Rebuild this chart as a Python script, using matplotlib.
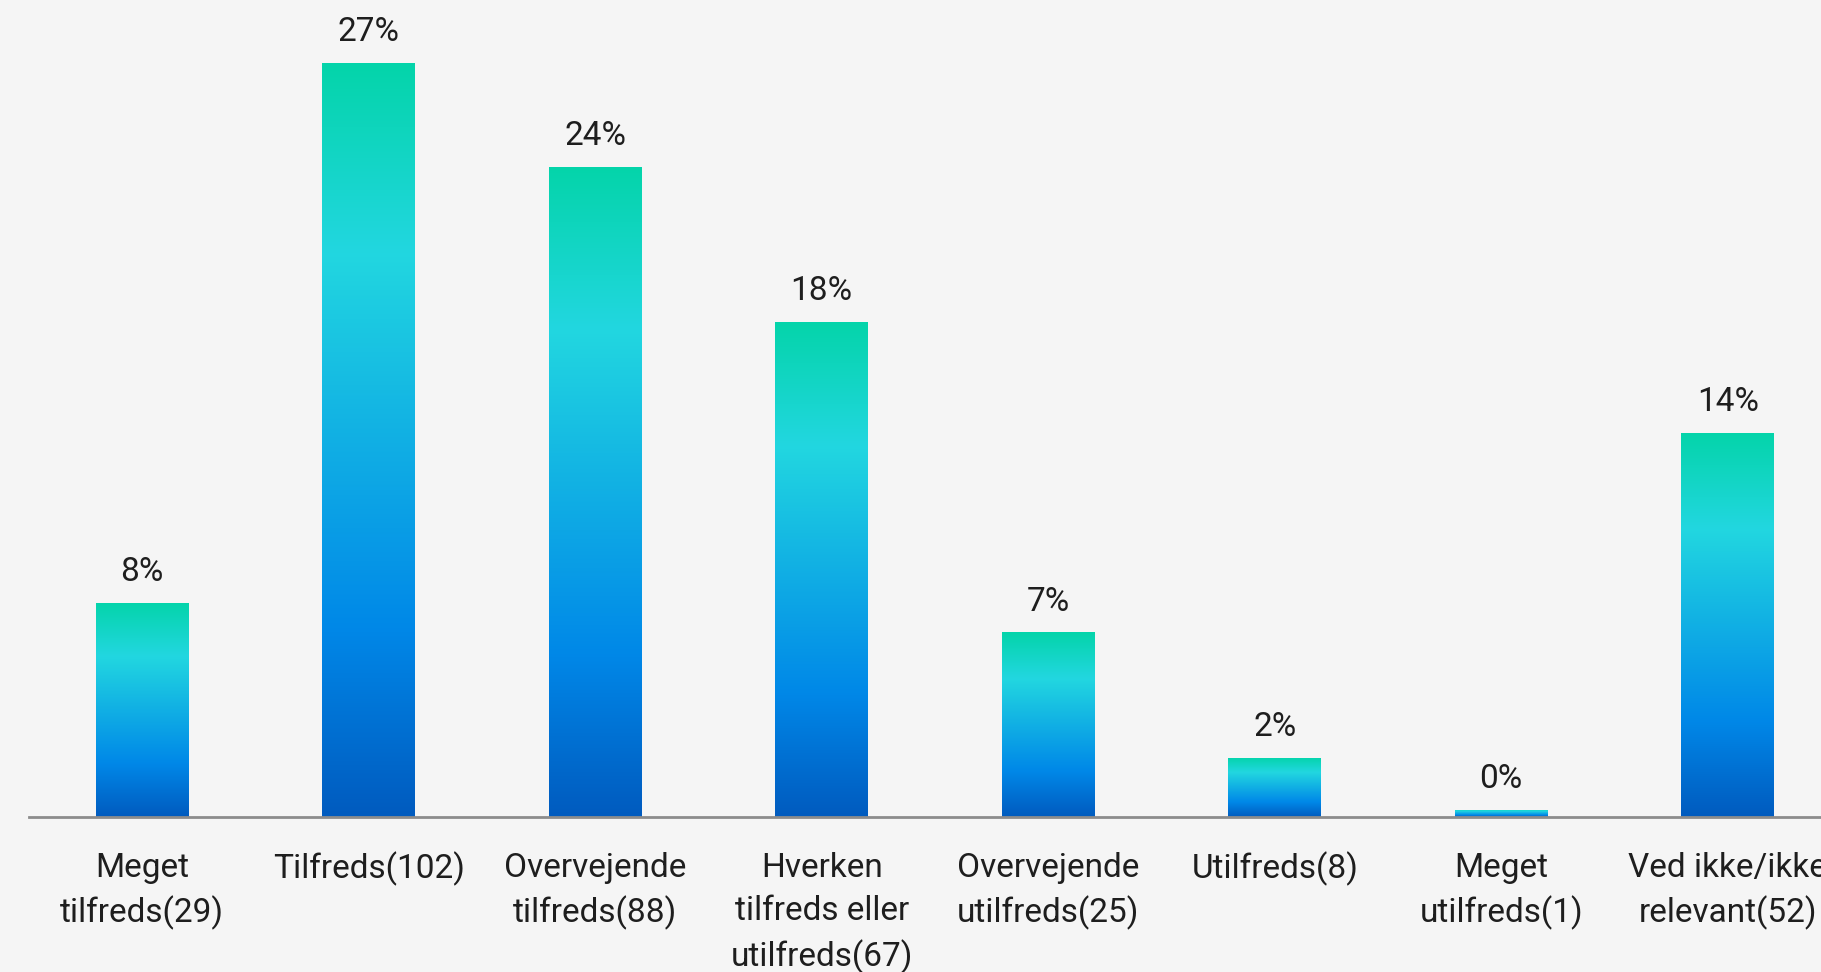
import numpy as np
import matplotlib
matplotlib.use('Agg')
import matplotlib.pyplot as plt
from matplotlib.colors import LinearSegmentedColormap
from matplotlib.patches import Rectangle

# data
categories = ['Meget\ntilfreds(29)', 'Tilfreds(102)', 'Overvejende\ntilfreds(88)',
              'Hverken\ntilfreds eller\nutilfreds(67)', 'Overvejende\nutilfreds(25)',
              'Utilfreds(8)', 'Meget\nutilfreds(1)', 'Ved ikke/ikke\nrelevant(52)']
counts = [29, 102, 88, 67, 25, 8, 1, 52]
pct_labels = ['8%', '27%', '24%', '18%', '7%', '2%', '0%', '14%']

plt.rcParams['font.family'] = ['Roboto', 'DejaVu Sans']

bg = '#f5f5f5'
fig = plt.figure(figsize=(18.21, 9.72), dpi=100, facecolor=bg)
ax = fig.add_axes([29 / 1821, 155 / 972, 1 - 29 / 1821, 817 / 972])
ax.set_facecolor(bg)

# gradient top -> bottom
cmap = LinearSegmentedColormap.from_list(
    'bar', [(0, '#04d4aa'), (0.25, '#22d7e0'), (0.75, '#0088e8'), (1, '#005bbf')])
grad = np.linspace(0, 1, 256).reshape(-1, 1)

width = 0.41
x = np.arange(len(counts))
bars = ax.bar(x, counts, width=width, color='none', edgecolor='none')
for b, lab in zip(bars, pct_labels):
    x0, h = b.get_x(), b.get_height()
    im = ax.imshow(grad, cmap=cmap, aspect='auto', extent=(x0, x0 + width, 0, h),
                   origin='upper', zorder=2)
    im.set_clip_path(Rectangle((x0, 0), width, h, transform=ax.transData))
    ax.annotate(lab, (x0 + width / 2, h), xytext=(0, 22), textcoords='offset points',
                ha='center', va='center', fontsize=24, color='#1e1e1e')

ax.set_xlim(-0.5, -0.5 + (1821 - 29) / 226.5)
ax.set_ylim(0, 817 / 7.392)

ax.set_xticks(x)
ax.set_xticklabels(categories, fontsize=24, color='#1e1e1e', linespacing=1.45)
ax.tick_params(axis='x', length=0, pad=25)
ax.set_yticks([])
for s in ['top', 'right', 'left']:
    ax.spines[s].set_visible(False)
ax.spines['bottom'].set_color('#8c8c8c')
ax.spines['bottom'].set_linewidth(2)
ax.spines['bottom'].set_zorder(3)

fig.savefig('out.png', dpi=100, facecolor=bg)
